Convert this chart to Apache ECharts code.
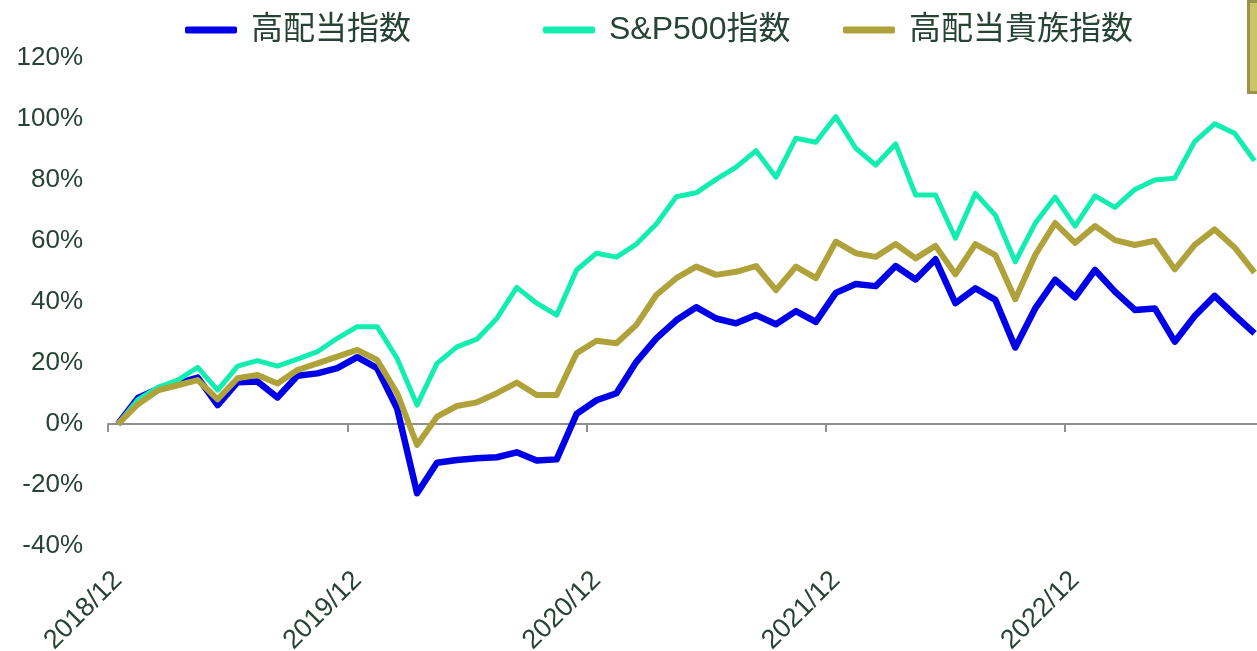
<!DOCTYPE html>
<html>
<head>
<meta charset="utf-8">
<script src="https://cdn.jsdelivr.net/npm/echarts@6/dist/echarts.min.js"></script>
<style>
html,body{margin:0;padding:0;background:#fff;}
#chart{width:1257px;height:651px;}
</style>
</head>
<body>
<div id="chart"></div>
<script>
// Categories: monthly 2018/12 .. 2023/9
const categories = [];
(function(){
  let y = 2018, m = 12;
  for (let i = 0; i < 58; i++) {
    categories.push(y + '/' + m);
    m++; if (m > 12) { m = 1; y++; }
  }
})();

const seriesNames = ['高配当指数', 'S&P500指数', '高配当貴族指数'];

const highDividend = [0, 8.5, 11.5, 13.3, 15.2, 6.2, 13.7, 13.9, 8.7, 15.8, 16.6, 18.3, 21.9, 18.3, 5.1, -22.7, -12.7, -11.8, -11.2, -10.9, -9.3, -12.0, -11.6, 3.3, 7.8, 10.1, 20.4, 28.1, 34.0, 38.3, 34.6, 33.0, 35.7, 32.7, 37.0, 33.5, 43.0, 45.9, 45.2, 51.8, 47.4, 54.0, 39.6, 44.5, 40.7, 25.1, 37.9, 47.3, 41.5, 50.5, 43.4, 37.4, 37.9, 27.0, 35.4, 42.0, 35.7, 29.7];
const sp500 = [0, 8.0, 12.0, 14.4, 18.6, 11.1, 19.0, 20.8, 19.0, 21.3, 23.7, 28.1, 31.9, 31.9, 21.5, 6.2, 19.9, 25.3, 27.8, 34.6, 44.8, 39.6, 35.7, 50.5, 56.0, 54.7, 59.0, 65.6, 74.5, 75.8, 80.2, 84.2, 89.6, 80.9, 93.7, 92.4, 100.8, 90.4, 84.9, 91.8, 75.1, 75.1, 60.9, 75.6, 68.5, 53.2, 65.8, 74.4, 64.9, 74.8, 71.0, 76.9, 80.0, 80.6, 92.6, 98.4, 95.3, 86.3];
const aristocrats = [0, 6.5, 11.0, 12.7, 14.4, 8.1, 15.0, 16.1, 13.3, 17.7, 19.9, 22.1, 24.3, 21.0, 10.1, -6.9, 2.4, 5.9, 7.1, 10.1, 13.6, 9.5, 9.5, 23.2, 27.3, 26.5, 32.5, 42.3, 47.8, 51.6, 48.9, 49.9, 51.8, 43.9, 51.6, 47.8, 59.8, 56.0, 54.8, 59.0, 54.3, 58.4, 49.1, 59.0, 55.4, 40.9, 55.4, 65.9, 59.4, 64.9, 60.3, 58.7, 60.1, 50.7, 58.7, 63.8, 57.9, 49.6];

const yTicks = [-40, -20, 0, 20, 40, 60, 80, 100, 120];

const colors = ['#0000e8', '#12eeb0', '#b0a23a'];
const textColor = '#264334';
const fontFamily = '"Liberation Sans", Arial, "Noto Sans CJK JP", sans-serif';

const chart = echarts.init(document.getElementById('chart'), null, {renderer: 'canvas'});

function legendFor(idx, left) {
  return {
    left: left,
    top: 9,
    itemWidth: 52,
    itemHeight: 7,
    itemGap: 20,
    icon: 'roundRect',
    data: [seriesNames[idx]],
    textStyle: {fontSize: 32, color: textColor, fontFamily: fontFamily, padding: [0, 0, 0, 9]},
    selectedMode: false
  };
}

const option = {
  backgroundColor: '#ffffff',
  animation: false,
  legend: [legendFor(0, 180), legendFor(1, 538), legendFor(2, 838)],
  grid: {left: 108, top: 58, height: 488, width: 1156.5, containLabel: false, outerBoundsMode: 'none'},
  xAxis: [
    {
      // labels at bottom of plot area
      type: 'category',
      data: categories,
      position: 'bottom',
      boundaryGap: true,
      axisLine: {show: false, onZero: false},
      axisTick: {show: false},
      axisLabel: {
        interval: 11,
        rotate: 45,
        margin: 30,
        fontSize: 27,
        color: textColor,
        fontFamily: fontFamily,
        hideOverlap: false
      },
      splitLine: {show: false}
    },
    {
      // axis line crossing at zero
      type: 'category',
      data: categories,
      position: 'bottom',
      boundaryGap: true,
      axisLine: {show: true, onZero: true, lineStyle: {color: '#8f8f8f', width: 2}},
      axisTick: {show: true, interval: 11, length: 8, lineStyle: {color: '#8f8f8f', width: 2}},
      axisLabel: {show: false},
      splitLine: {show: false}
    }
  ],
  yAxis: {
    type: 'value',
    min: yTicks[0],
    max: yTicks[yTicks.length - 1],
    interval: 20,
    axisLine: {show: false},
    axisTick: {show: false},
    splitLine: {show: false},
    axisLabel: {
      formatter: function (v) { return v + '%'; },
      fontSize: 26,
      margin: 25,
      color: textColor,
      fontFamily: fontFamily
    }
  },
  series: [
    {name: seriesNames[0], type: 'line', xAxisIndex: 0, data: highDividend, symbol: 'none', lineStyle: {width: 6.5, color: colors[0], join: 'round'}, itemStyle: {color: colors[0]}},
    {name: seriesNames[1], type: 'line', xAxisIndex: 0, data: sp500, symbol: 'none', lineStyle: {width: 5, color: colors[1], join: 'round'}, itemStyle: {color: colors[1]}},
    {name: seriesNames[2], type: 'line', xAxisIndex: 0, data: aristocrats, symbol: 'none', lineStyle: {width: 6, color: colors[2], join: 'round'}, itemStyle: {color: colors[2]}}
  ],
  graphic: [
    {type: 'rect', left: 1247, top: 0, shape: {width: 12, height: 91}, style: {fill: '#cdc466', stroke: '#9a9250', lineWidth: 3}}
  ]
};

chart.setOption(option);
</script>
</body>
</html>
